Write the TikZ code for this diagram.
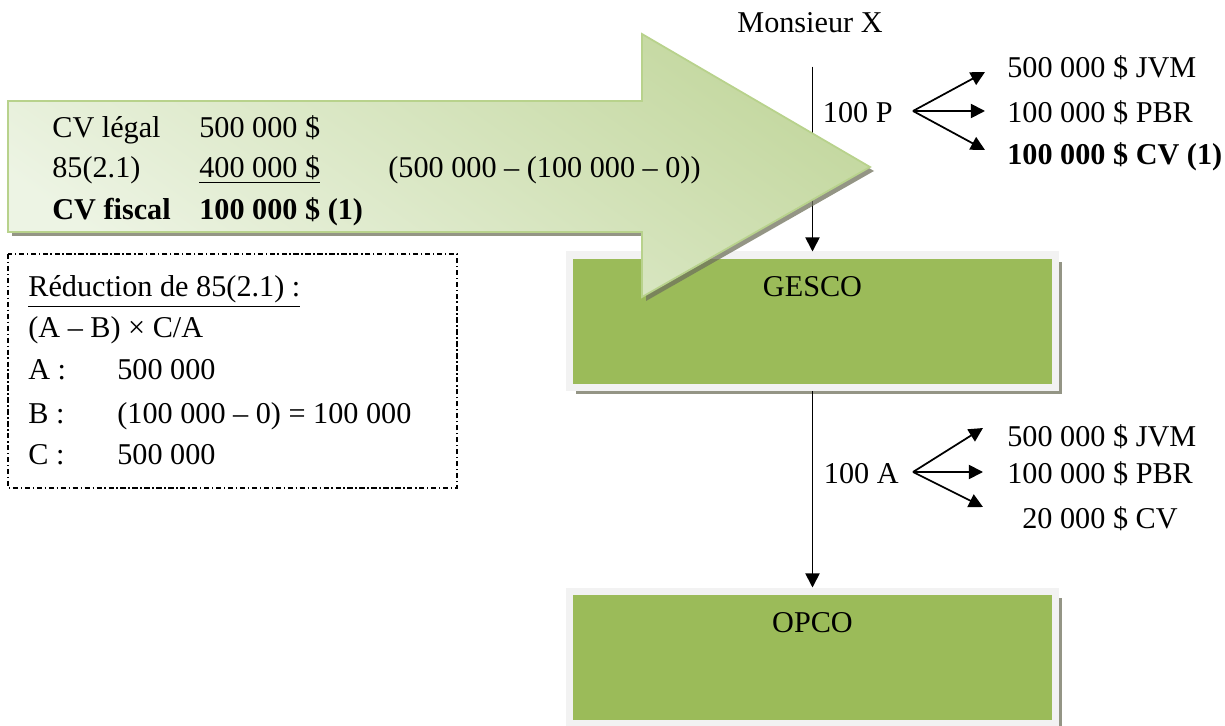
\documentclass[tikz,border=0pt]{standalone}
\usepackage{fontspec}
\setmainfont{Liberation Serif}
\usetikzlibrary{positioning,arrows.meta,calc,shadows}

\definecolor{boxgreen}{RGB}{155,187,89}
\definecolor{boxrim}{RGB}{242,242,242}
\definecolor{shadowgray}{RGB}{112,114,92}
\definecolor{arrowlight}{RGB}{237,244,228}
\definecolor{arrowdark}{RGB}{196,216,160}
\definecolor{arrowedge}{RGB}{184,210,140}

\begin{document}
\begin{tikzpicture}[
  x=0.02cm, y=-0.02cm,
  font=\fontsize{17.2}{20}\selectfont,
  >={Triangle[length=8pt,width=8pt]},
  txt/.style={anchor=base west, inner sep=0pt},
  entity/.style={draw=boxrim, line width=4pt, fill=boxgreen, inner xsep=0pt, inner ysep=0pt,
    minimum width=9.72cm, text height=0.83cm, text depth=1.82cm,
    general shadow={fill=shadowgray, opacity=0.75, shadow xshift=0.13cm, shadow yshift=-0.13cm}},
  flow/.style={->, draw=black, line width=1pt},
  notebox/.style={draw=black, line width=0.6pt, dash pattern=on 3pt off 1.5pt on 0.8pt off 1.5pt},
  bigarrow/.style={draw=arrowedge, line width=1pt, top color=arrowdark, bottom color=arrowlight, shading angle=-35}
]
  \useasboundingbox (0,0) rectangle (1225,726);

  % companies
  \node[entity] (gesco) at (812.5,251.5) [anchor=north] {GESCO};
  \node[entity] (opco) at (812.5,587.5) [anchor=north] {OPCO};
  \node[anchor=base, inner sep=0pt] (monsieur) at (810,33) {Monsieur X};

  \draw[flow, shorten <=0.66cm] (monsieur.south -| gesco.north) -- (gesco.north);
  \draw[flow] (gesco.south) -- (opco.north);

  % shares received by Monsieur X
  \node[anchor=base east, inner sep=0pt] (lblP) at (893,123) {100 P};
  \coordinate (fanP) at (913,111);
  \coordinate (tipP1) at (985,72);
  \coordinate (tipP2) at (985,111);
  \coordinate (tipP3) at (985,150);
  \draw[flow] (fanP) -- (tipP1);
  \draw[flow] (fanP) -- (tipP2);
  \draw[flow] (fanP) -- (tipP3);
  \node[txt] (jvmP) at (1007,78) {500 000 \$ JVM};
  \node[txt] (pbrP) at (1007,123) {100 000 \$ PBR};
  \node[txt] (cvP) at (1007,165) {\textbf{100 000 \$ CV (1)}};

  % shares received by GESCO
  \node[anchor=base east, inner sep=0pt] (lblA) at (899,483) {100 A};
  \coordinate (fanA) at (913,472);
  \coordinate (tipA1) at (983,428);
  \coordinate (tipA2) at (983,472);
  \coordinate (tipA3) at (983,507);
  \draw[flow] (fanA) -- (tipA1);
  \draw[flow] (fanA) -- (tipA2);
  \draw[flow] (fanA) -- (tipA3);
  \node[txt] (jvmA) at (1007,447) {500 000 \$ JVM};
  \node[txt] (pbrA) at (1007,483) {100 000 \$ PBR};
  \node[txt] (cvA) at (1022,528) {20 000 \$ CV};

  % big arrow with the tax cost
  \fill[shadowgray, opacity=0.75] (12,105) -- (646,105) -- (646,38) -- (874,171) -- (646,301) -- (646,236) -- (12,236) -- cycle;
  \path[bigarrow] (8,101) -- (642,101) -- (642,34) -- (870,167) -- (642,297) -- (642,232) -- (8,232) -- cycle;
  \node[txt] (cvleg) at (52,138) {CV légal};
  \node[txt] (cvlegv) at (199,138) {500 000 \$};
  \node[txt] (art) at (52,178) {85(2.1)};
  \node[txt] (artv) at (199,178) {\underline{400 000 \$}};
  \node[txt] (artcalc) at (388,178) {(500 000 – (100 000 – 0))};
  \node[txt] (cvfis) at (52,220) {\textbf{CV fiscal}};
  \node[txt] (cvfisv) at (199,220) {\textbf{100 000 \$ (1)}};

  % reduction note
  \draw[notebox] (8,254) rectangle (457,488);
  \node[txt] (redtitle) at (28,297) {\underline{Réduction de 85(2.1) :}};
  \node[txt] (formula) at (28,338) {(A – B) × C/A};
  \node[txt] (redA) at (28,380) {A :};
  \node[txt] (redAv) at (117,380) {500 000};
  \node[txt] (redB) at (28,423) {B :};
  \node[txt] (redBv) at (117,423) {(100 000 – 0) = 100 000};
  \node[txt] (redC) at (28,464) {C :};
  \node[txt] (redCv) at (117,464) {500 000};
\end{tikzpicture}
\end{document}
